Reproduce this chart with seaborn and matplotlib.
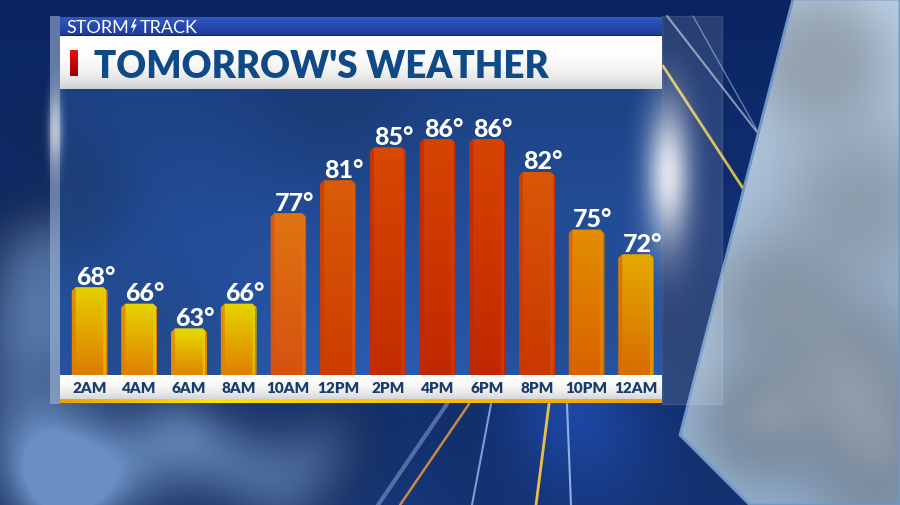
import numpy as np
import pandas as pd
import matplotlib
matplotlib.use('Agg')
import matplotlib.pyplot as plt
import seaborn as sns
from matplotlib.patches import Polygon, Rectangle
from matplotlib.colors import LinearSegmentedColormap, to_rgb

# Chart values
hours = ['2AM', '4AM', '6AM', '8AM', '10AM', '12PM', '2PM', '4PM', '6PM', '8PM', '10PM', '12AM']
temps = [68, 66, 63, 66, 77, 81, 85, 86, 86, 82, 75, 72]
brand_left = 'STORM'
brand_right = 'TRACK'
title = "TOMORROW'S WEATHER"

# bar colour by temperature, top and bottom of each bar's gradient
color_stops = [63, 68, 72, 75, 77, 81, 86]
top_colors = ['#e6dc00', '#e6d000', '#e4aa00', '#e38e00', '#e07412', '#da5c08', '#d64400']
bottom_colors = ['#e08400', '#de7c00', '#d86c00', '#d96200', '#d65210', '#cc3c00', '#c02800']

sns.set_theme(style='white')
plt.rcParams['font.family'] = ['Lato', 'DejaVu Sans']

W, H = 900, 506
fig = plt.figure(figsize=(9, 5.06), dpi=100)

# ---- background (pixel coordinates) ----
bg = fig.add_axes([0, 0, 1, 1])
bg.set_xlim(0, W)
bg.set_ylim(H, 0)
bg.axis('off')

yy, xx = np.mgrid[0:H, 0:W].astype(float)


def blobs(spots):
    a = np.zeros((H, W))
    for cx, cy, r, s in spots:
        a += s * np.exp(-((xx - cx) ** 2 + (yy - cy) ** 2) / r ** 2)
    return np.clip(a, 0, 1)[..., None]


def mix(c1, c2, a):
    return np.array(to_rgb(c1)) * (1 - a) + np.array(to_rgb(c2)) * a


def vgrad(c1, c2, n=128, power=1.0):
    t = np.linspace(0, 1, n) ** power
    return mix(c1, c2, t[:, None, None])


sky = mix('#0a2460', '#1a408e', (yy / H)[..., None])
tech = blobs([(600, 470, 160, 0.7), (560, 380, 90, 0.4)])
sky = mix('#000000', '#1f4cae', tech) * tech + sky * (1 - tech)
clouds = blobs([(30, 250, 60, 0.5), (90, 230, 50, 0.35), (20, 330, 70, 0.6), (100, 320, 60, 0.4),
                (30, 440, 80, 0.7), (130, 470, 70, 0.6), (230, 460, 60, 0.55), (330, 440, 55, 0.45),
                (290, 500, 60, 0.5), (60, 500, 60, 0.6), (180, 420, 50, 0.4), (40, 130, 40, 0.2),
                (110, 150, 35, 0.15)])
sky = mix('#000000', '#6a8fc4', clouds) * clouds + sky * (1 - clouds)
bg.imshow(sky, extent=(0, W, H, 0), aspect='auto', zorder=0)

# light cloudy slab on the right
right_poly = Polygon([(793, 0), (900, 0), (900, 506), (750, 506), (680, 436)], closed=True,
                     facecolor='none', edgecolor='#6f97c8', lw=2, zorder=3)
bg.add_patch(right_poly)
slab = mix('#bfd2e6', '#93adca', (yy / H)[..., None])
puffs = blobs([(820, 60, 60, 0.4), (860, 200, 70, 0.3), (780, 300, 60, 0.35), (850, 380, 70, 0.5),
               (760, 420, 50, 0.45), (880, 460, 60, 0.4)])
slab = mix('#000000', '#e2eaf3', puffs) * puffs + slab * (1 - puffs)
im = bg.imshow(slab, extent=(0, W, H, 0), aspect='auto', zorder=2)
im.set_clip_path(right_poly)

# light streaks
for xs, ys, c, a, lw in [([667, 757], [17, 133], 'white', 0.5, 1.5),
                         ([693, 762], [17, 140], '#cfe0ff', 0.45, 1.0),
                         ([663, 750], [67, 200], '#f5d24a', 0.85, 2.0),
                         ([469, 400], [405, 506], '#f0a040', 0.8, 1.8),
                         ([491, 472], [405, 506], '#9fd0ff', 0.7, 1.5),
                         ([549, 536], [405, 506], '#ffd040', 0.9, 2.0),
                         ([567, 571], [405, 506], '#bfe0ff', 0.7, 1.5),
                         ([447, 378], [405, 506], '#cfe0ff', 0.35, 3.0)]:
    bg.plot(xs, ys, color=c, alpha=a, lw=lw, zorder=1)

glow = np.zeros((H, W, 4))
glow[..., :3] = 1
glow[..., 3] = 0.85 * np.exp(-((xx - 668) ** 2 / 22 ** 2 + (yy - 175) ** 2 / 70 ** 2)) \
    + 0.55 * np.exp(-((xx - 55) ** 2 / 7 ** 2 + (yy - 130) ** 2 / 35 ** 2))
glow[..., 3] = np.clip(glow[..., 3], 0, 1)
bg.imshow(glow, extent=(0, W, H, 0), aspect='auto', zorder=9)

# glass edges of the board
bg.add_patch(Rectangle((50, 17), 10, 388, facecolor='#a9bedd', alpha=0.55, lw=0, zorder=4))
bg.add_patch(Rectangle((662, 17), 60, 388, facecolor='white', alpha=0.12,
                       edgecolor=(1, 1, 1, 0.45), lw=1, zorder=4))

# header strip, title bar, chart area, label strip
bg.imshow(vgrad('#3058c4', '#1e3b96'), extent=(60, 662, 36, 18), aspect='auto', zorder=5)
bg.imshow(vgrad('#ffffff', '#cfcfcf', power=3), extent=(60, 662, 90, 37), aspect='auto', zorder=5)
bg.imshow(vgrad('#e81010', '#9a0000'), extent=(70, 78, 77, 51), aspect='auto', zorder=6)

area = mix('#1d4284', '#2a5cb2', ((yy - 90) / 286)[..., None])
lift = blobs([(60, 200, 60, 0.35), (150, 370, 90, 0.3), (330, 100, 80, 0.15), (560, 330, 80, 0.2)])
area = mix('#000000', '#4a7cc4', lift) * lift + area * (1 - lift)
bg.imshow(area[90:376, 60:662], extent=(60, 662, 376, 90), aspect='auto', zorder=5)

bg.imshow(vgrad('#ffffff', '#d6d6d6', power=2), extent=(60, 662, 400, 376), aspect='auto', zorder=5)
stripe_cmap = LinearSegmentedColormap.from_list(
    'stripe', [(0, '#f0a000'), (0.25, '#ffe400'), (0.6, '#f8c000'), (1, '#f0a000')])
bg.imshow(np.linspace(0, 1, 256)[None, :], cmap=stripe_cmap, extent=(60, 662, 404, 400),
          aspect='auto', zorder=5)

# text in the header
bg.text(94, 78, title, fontsize=26.5, fontweight='heavy', color='#0f4a86', va='baseline', zorder=7)
t_left = bg.text(66, 32.5, brand_left, fontsize=13, color='white', va='baseline', zorder=7)
fig.canvas.draw()
x1 = t_left.get_window_extent().x1
bx = x1 + 2
bg.add_patch(Polygon([(bx + 4, 20), (bx, 28.5), (bx + 3, 28.5), (bx + 1, 35),
                      (bx + 6, 25.5), (bx + 3, 25.5), (bx + 5.5, 20)],
                     closed=True, facecolor='white', lw=0, zorder=7))
bg.text(bx + 9, 32.5, brand_right, fontsize=13, color='white', va='baseline', zorder=7)

# ---- bar chart ----
ax = fig.add_axes([60 / W, 1 - 376 / H, 602 / W, 286 / H])
ax.patch.set_alpha(0)
df = pd.DataFrame({'hour': hours, 'temp': temps})
sns.barplot(data=df, x='hour', y='temp', ax=ax, width=0.716, color='#e08000')

y0, y1 = 57.33, 92.08
px_x = 1 / 49.7
px_y = 1 / 8.23
top_cmap = LinearSegmentedColormap.from_list(
    'top', [((v - 63) / 23, c) for v, c in zip(color_stops, top_colors)])
bot_cmap = LinearSegmentedColormap.from_list(
    'bot', [((v - 63) / 23, c) for v, c in zip(color_stops, bottom_colors)])

for p, t in zip(list(ax.patches), temps):
    p.set_visible(False)
    xa = p.get_x()
    w = p.get_width()
    h = p.get_height()
    xb = xa + w
    s = 4 * px_x
    d = 4 * px_y
    ctop = top_cmap((t - 63) / 23)
    cbot = bot_cmap((t - 63) / 23)
    shape = Polygon([(xa, y0), (xa, h - d), (xa + s, h), (xb - s, h), (xb, h - d), (xb, y0)],
                    closed=True, facecolor='none', lw=0)
    ax.add_patch(shape)
    cm = LinearSegmentedColormap.from_list('bar', [ctop, cbot])
    g = ax.imshow(np.linspace(0, 1, 128)[:, None], cmap=cm, extent=(xa, xb, y0, h),
                  aspect='auto', zorder=2)
    g.set_clip_path(shape)
    ax.add_patch(Polygon([(xa, y0), (xa, h - d), (xa + s, h), (xa + s, y0)], closed=True,
                         facecolor=cbot, alpha=0.75, lw=0, zorder=3))
    ax.add_patch(Polygon([(xb - s, y0), (xb - s, h), (xb, h - d), (xb, y0)], closed=True,
                         facecolor=ctop, alpha=0.6, lw=0, zorder=3))
    ax.add_patch(Rectangle((xb - 1.2 * px_x, y0), 1.2 * px_x, h - d - y0, facecolor=cbot,
                           lw=0, zorder=3))
    ax.annotate(f'{t}°', (xa + w / 2, h), xytext=(4.3, 2.5), textcoords='offset points',
                ha='center', va='baseline', fontsize=18, fontweight='black', color='white',
                zorder=4)

ax.set_xlim(-(89.5 - 60) / 49.7, 11 + (662 - 636.2) / 49.7)
ax.set_ylim(y0, y1)
ax.set_xticks(range(len(hours)))
ax.set_xticklabels(hours, fontsize=11, fontweight='heavy', color='#183c6c')
ax.tick_params(axis='x', length=0, pad=4.5)
ax.set_yticks([])
ax.set_xlabel('')
ax.set_ylabel('')
for sp in ax.spines.values():
    sp.set_visible(False)

fig.savefig('out.png', dpi=100)
